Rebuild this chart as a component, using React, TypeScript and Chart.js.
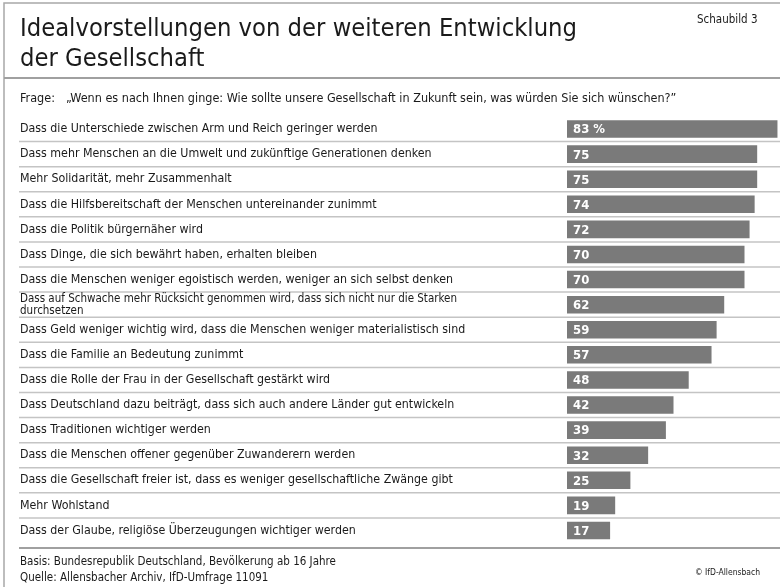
import React, { useEffect, useRef } from "react";
import { Chart, registerables } from "chart.js";

Chart.register(...registerables);

const TITLE_LINES = ["Idealvorstellungen von der weiteren Entwicklung", "der Gesellschaft"];
const FIGURE_TAG = "Schaubild 3";
const QUESTION_PREFIX = "Frage:";
const QUESTION = "\u201EWenn es nach Ihnen ginge: Wie sollte unsere Gesellschaft in Zukunft sein, was w\u00FCrden Sie sich w\u00FCnschen?\u201D";
const FOOTER_LINES = [
  "Basis: Bundesrepublik Deutschland, Bev\u00F6lkerung ab 16 Jahre",
  "Quelle: Allensbacher Archiv, IfD-Umfrage 11091",
];
const COPYRIGHT = "\u00A9 IfD-Allensbach";

const CATEGORIES: (string | string[])[] = [
  "Dass die Unterschiede zwischen Arm und Reich geringer werden",
  "Dass mehr Menschen an die Umwelt und zuk\u00FCnftige Generationen denken",
  "Mehr Solidarit\u00E4t, mehr Zusammenhalt",
  "Dass die Hilfsbereitschaft der Menschen untereinander zunimmt",
  "Dass die Politik b\u00FCrgern\u00E4her wird",
  "Dass Dinge, die sich bew\u00E4hrt haben, erhalten bleiben",
  "Dass die Menschen weniger egoistisch werden, weniger an sich selbst denken",
  ["Dass auf Schwache mehr R\u00FCcksicht genommen wird, dass sich nicht nur die Starken", "durchsetzen"],
  "Dass Geld weniger wichtig wird, dass die Menschen weniger materialistisch sind",
  "Dass die Familie an Bedeutung zunimmt",
  "Dass die Rolle der Frau in der Gesellschaft gest\u00E4rkt wird",
  "Dass Deutschland dazu beitr\u00E4gt, dass sich auch andere L\u00E4nder gut entwickeln",
  "Dass Traditionen wichtiger werden",
  "Dass die Menschen offener gegen\u00FCber Zuwanderern werden",
  "Dass die Gesellschaft freier ist, dass es weniger gesellschaftliche Zw\u00E4nge gibt",
  "Mehr Wohlstand",
  "Dass der Glaube, religi\u00F6se \u00DCberzeugungen wichtiger werden",
];

const VALUES = [83, 75, 75, 74, 72, 70, 70, 62, 59, 57, 48, 42, 39, 32, 25, 19, 17];
const VALUE_LABELS = ["83 %", "75", "75", "74", "72", "70", "70", "62", "59", "57", "48", "42", "39", "32", "25", "19", "17"];

const FONT = "'DejaVu Sans Condensed', 'Liberation Sans Narrow', sans-serif";

const decorPlugin = {
  id: "decor",
  beforeDraw(chart: any) {
    const { ctx, chartArea, width } = chart;
    const y = chart.scales.y;
    ctx.save();
    // frame
    ctx.strokeStyle = "#a8a8a8";
    ctx.lineWidth = 1.5;
    ctx.beginPath();
    ctx.moveTo(4, chart.height);
    ctx.lineTo(4, 3);
    ctx.lineTo(width, 3);
    ctx.stroke();
    // title separator
    ctx.strokeStyle = "#a0a0a0";
    ctx.lineWidth = 2;
    ctx.beginPath();
    ctx.moveTo(4, 78);
    ctx.lineTo(width, 78);
    ctx.stroke();
    // row separators
    ctx.strokeStyle = "#c4c4c4";
    ctx.lineWidth = 1.5;
    for (let i = 0; i < CATEGORIES.length - 1; i++) {
      const yy = (y.getPixelForValue(i) + y.getPixelForValue(i + 1)) / 2;
      ctx.beginPath();
      ctx.moveTo(19, yy);
      ctx.lineTo(width, yy);
      ctx.stroke();
    }
    ctx.strokeStyle = "#a0a0a0";
    ctx.lineWidth = 2;
    ctx.beginPath();
    ctx.moveTo(19, chartArea.bottom + 5);
    ctx.lineTo(width, chartArea.bottom + 5);
    ctx.stroke();
    // texts
    ctx.fillStyle = "#1a1a1a";
    ctx.textBaseline = "alphabetic";
    ctx.textAlign = "left";
    ctx.font = `25.3px ${FONT}`;
    ctx.fillText(TITLE_LINES[0], 20, 36);
    ctx.fillText(TITLE_LINES[1], 20, 66);
    ctx.font = `11.5px ${FONT}`;
    ctx.fillText(FIGURE_TAG, 697, 23);
    ctx.font = `12.5px ${FONT}`;
    ctx.fillText(QUESTION_PREFIX, 20, 102);
    ctx.fillText(QUESTION, 66, 102);
    ctx.font = `11.5px ${FONT}`;
    ctx.fillText(FOOTER_LINES[0], 20, 565);
    ctx.fillText(FOOTER_LINES[1], 20, 581);
    ctx.font = `8.5px ${FONT}`;
    ctx.fillText(COPYRIGHT, 695, 575);
    ctx.restore();
  },
  afterDatasetsDraw(chart: any) {
    const { ctx } = chart;
    const meta = chart.getDatasetMeta(0);
    ctx.save();
    ctx.fillStyle = "#ffffff";
    ctx.font = `bold 13px ${FONT}`;
    ctx.textBaseline = "middle";
    ctx.textAlign = "left";
    meta.data.forEach((bar: any, i: number) => {
      ctx.fillText(VALUE_LABELS[i], bar.base + 6, bar.y + 1);
    });
    ctx.restore();
  },
};

export default function App() {
  const ref = useRef<HTMLCanvasElement>(null);
  useEffect(() => {
    document.body.style.margin = "0";
    const chart = new Chart(ref.current!, {
      type: "bar",
      data: {
        labels: CATEGORIES as any,
        datasets: [
          {
            data: VALUES,
            backgroundColor: "#7a7a7a",
            barPercentage: 0.7,
            categoryPercentage: 1,
          },
        ],
      },
      options: {
        indexAxis: "y",
        animation: false,
        responsive: false,
        maintainAspectRatio: false,
        layout: { padding: { left: 20, top: 116.5, bottom: 44, right: 0 } },
        plugins: { legend: { display: false }, tooltip: { enabled: false } },
        scales: {
          x: { display: false, min: 0, max: 84 },
          y: {
            grid: { display: false },
            border: { display: false },
            afterFit: (scale: any) => {
              scale.width = 547;
            },
            ticks: {
              crossAlign: "far",
              padding: 0,
              color: "#1a1a1a",
              autoSkip: false,
              font: (ctx: any) =>
                ctx.index === 7
                  ? { family: FONT, size: 11.5, lineHeight: 1.05 }
                  : { family: FONT, size: 12.3 },
            },
          },
        },
      },
      plugins: [decorPlugin],
    });
    return () => chart.destroy();
  }, []);
  return <canvas ref={ref} width={780} height={587} style={{ display: "block" }} />;
}
